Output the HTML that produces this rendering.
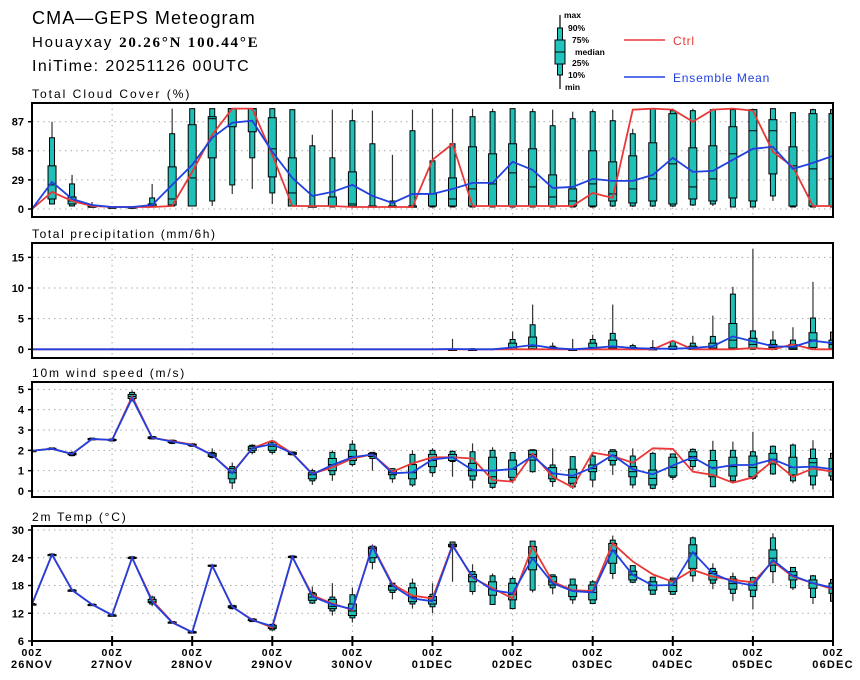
<!DOCTYPE html>
<html><head><meta charset="utf-8">
<style>
html,body{margin:0;padding:0;background:#fff;}
svg{display:block;}
text{font-family:"Liberation Sans",sans-serif;}
</style></head>
<body>
<svg id="chart" width="860" height="680" viewBox="0 0 860 680">
<text x="32" y="24" font-size="18" letter-spacing="1.1">CMA—GEPS Meteogram</text>
<text x="32" y="47" font-size="15" letter-spacing="1.8">Houayxay <tspan font-family="Liberation Serif, serif" font-weight="bold">20.26°N 100.44°E</tspan></text>
<text x="32" y="71" font-size="16" letter-spacing="1.4">IniTime: 20251126 00UTC</text>
<g>
<line x1="560" y1="15" x2="560" y2="89" stroke="#000" stroke-width="1.2"/>
<rect x="557.5" y="28" width="5" height="47" fill="#22c3bc" stroke="#000" stroke-width="1"/>
<rect x="555" y="40" width="10" height="24" fill="#22c3bc" stroke="#000" stroke-width="1"/>
<line x1="555" y1="52" x2="565" y2="52" stroke="#000"/>
<g font-size="8.5" font-weight="bold">
<text x="564" y="18">max</text><text x="568" y="31">90%</text><text x="572" y="43">75%</text>
<text x="575" y="55">median</text><text x="572" y="66">25%</text><text x="568" y="78">10%</text><text x="565" y="90">min</text>
</g>
</g>
<g><line x1="624" y1="40" x2="665" y2="40" stroke="#e83838" stroke-width="1.5"/><text x="673" y="45" font-size="12" letter-spacing="0.8" fill="#e83838">Ctrl</text></g>
<g><line x1="624" y1="77" x2="665" y2="77" stroke="#2040e0" stroke-width="1.5"/><text x="673" y="82" font-size="12" letter-spacing="0.8" fill="#2040e0">Ensemble Mean</text></g>
</svg>
<script>
const dayLabels=["26NOV","27NOV","28NOV","29NOV","30NOV","01DEC","02DEC","03DEC","04DEC","05DEC","06DEC"];
const cloudTicks=[0,29,58,87];
const precipTicks=[0,5,10,15];
const windTicks=[0,1,2,3,4,5];
const tempTicks=[6,12,18,24,30];

const cloudCtrl=[0,17,8,3,2,2,2,3,37,74,100,100,54,3,3,3,2,2,2,2,49,65,3,3,3,3,3,3,16,11,99,100,99,87,99,100,98,57,42,3,3];
const cloudMean=[0,27,10,4,2,2,4,24,44,71,86,88,57,31,13,17,24,13,6,15,15,20,26,26,47,39,21,22,30,28,28,34,51,37,38,49,60,62,40,46,53];
const cloudBox=[[0,0,0,0,0,0,0],[5,5,10,24,43,71,87],[3,3,5,8,12,25,34],[2,2,3,3,3,3,7],[2,2,2,2,2,2,2],[2,2,2,2,2,2,2],[2,2,2,3,5,11,25],[3,3,4,10,42,75,100],[3,3,3,31,84,100,100],[3,8,51,90,92,100,100],[15,24,82,100,100,100,100],[20,51,77,100,100,100,100],[5,16,32,60,91,100,100],[3,3,3,16,51,99,99],[2,2,2,3,3,63,74],[2,2,3,3,12,51,99],[2,2,3,5,37,88,99],[2,2,2,2,3,65,98],[2,2,3,3,3,8,54],[2,2,3,3,3,78,99],[2,2,3,3,15,48,100],[2,2,3,10,31,65,100],[2,2,3,20,62,92,100],[2,2,3,25,55,97,100],[2,2,3,36,65,100,100],[2,2,3,22,60,97,100],[2,2,3,12,34,83,99],[2,2,3,8,20,90,97],[2,2,3,25,58,97,99],[2,3,8,15,47,88,99],[2,3,6,20,53,75,80],[2,3,8,30,66,100,100],[2,3,5,45,95,98,100],[3,4,10,22,61,98,100],[3,5,8,30,63,99,100],[2,2,11,55,82,99,100],[2,2,8,78,99,99,100],[8,13,35,78,89,100,100],[2,2,3,43,62,96,96],[2,2,3,40,95,99,100],[2,2,3,30,95,99,100]];

const precipCtrl=[0,0,0,0,0,0,0,0,0,0,0,0,0,0,0,0,0,0,0,0,0,0,0,0,0,0,0,0,0,0,0,0,1.4,0,0,0,0.2,0,0.8,0,0];
const precipMean=[0,0,0,0,0,0,0,0,0,0,0,0,0,0,0,0,0,0,0,0,0,0.05,0,0,0.3,0.7,0.2,0,0.2,0.5,0.2,0.1,0.1,0.2,0.5,2.1,1.3,0.5,0.4,1.4,1.0];
const precipBox=[[0,0,0,0,0,0,0],[0,0,0,0,0,0,0],[0,0,0,0,0,0,0],[0,0,0,0,0,0,0],[0,0,0,0,0,0,0],[0,0,0,0,0,0,0],[0,0,0,0,0,0,0],[0,0,0,0,0,0,0],[0,0,0,0,0,0,0],[0,0,0,0,0,0,0],[0,0,0,0,0,0,0],[0,0,0,0,0,0,0],[0,0,0,0,0,0,0],[0,0,0,0,0,0,0],[0,0,0,0,0,0,0],[0,0,0,0,0,0,0],[0,0,0,0,0,0,0],[0,0,0,0,0,0,0],[0,0,0,0,0,0,0],[0,0,0,0,0,0,0],[0,0,0,0,0,0,0],[0,0,0,0,0,0,1.7],[0,0,0,0,0,0.1,0.2],[0,0,0,0,0,0,0],[0,0,0,0.3,1.0,1.6,2.9],[0,0,0.1,0.5,2,4,7.3],[0,0,0,0.1,0.3,0.5,1.1],[0,0,0,0,0,0,1.7],[0,0,0.1,0.3,1,1.6,2.4],[0,0,0,0.2,1.5,2.6,7.3],[0,0,0,0.1,0.3,0.6,0.9],[0,0,0,0,0.1,0.3,1.5],[0,0,0,0,0.5,1.3,1.5],[0,0,0,0.1,0.5,1.0,2.2],[0,0,0,0.2,1.0,2.1,5.5],[0,0,0.2,1.5,4.2,9,10.2],[0,0,0.2,0.8,1.8,3,16.4],[0,0,0,0.3,0.8,1.5,3],[0,0,0,0.2,0.8,1.5,3.6],[0,0,0.3,1.5,2.7,5.1,11],[0,0,0.1,0.8,1.5,2.8,2.9]];

const windCtrl=[1.98,2.08,1.82,2.56,2.51,4.65,2.62,2.45,2.28,1.77,0.9,2.1,2.48,1.85,0.85,1.16,1.6,1.8,0.95,1.36,1.66,1.66,1.6,0.54,0.46,1.82,0.7,0.18,1.89,1.72,1.39,2.1,2.07,0.95,0.79,0.41,0.67,1.49,0.7,1.11,0.95];
const windMean=[1.98,2.08,1.82,2.56,2.51,4.56,2.62,2.43,2.26,1.77,0.87,2.1,2.31,1.85,0.82,1.28,1.66,1.8,0.87,0.92,1.55,1.66,1.03,1.0,1.08,1.72,0.87,0.75,1.16,1.77,1.07,0.82,1.25,1.66,1.11,1.28,1.28,1.56,1.16,1.2,1.07];
const windBox=[[1.95,1.96,1.97,1.98,1.99,2.0,2.0],[2.02,2.04,2.06,2.08,2.1,2.12,2.14],[1.7,1.74,1.78,1.82,1.86,1.9,1.95],[2.5,2.52,2.54,2.56,2.58,2.6,2.62],[2.44,2.46,2.48,2.51,2.54,2.56,2.58],[4.4,4.45,4.55,4.65,4.75,4.85,4.95],[2.54,2.56,2.58,2.62,2.66,2.68,2.7],[2.3,2.34,2.38,2.43,2.48,2.5,2.52],[2.18,2.2,2.23,2.26,2.3,2.32,2.34],[1.6,1.65,1.7,1.77,1.85,1.9,2.1],[0.1,0.4,0.6,0.9,1.1,1.2,1.4],[1.8,1.9,2.0,2.1,2.2,2.25,2.3],[1.8,1.9,2.0,2.2,2.4,2.45,2.5],[1.75,1.78,1.8,1.85,1.9,1.92,1.95],[0.3,0.5,0.6,0.8,0.9,1.0,1.1],[0.5,0.8,1.0,1.3,1.6,1.9,2.0],[1.2,1.3,1.5,1.7,2.0,2.3,2.5],[1.0,1.6,1.7,1.8,1.85,1.9,1.9],[0.4,0.6,0.8,0.9,1.0,1.1,1.1],[0.2,0.3,0.6,0.9,1.3,1.8,2.0],[0.7,0.9,1.2,1.5,1.8,2.0,2.1],[0.7,1.45,1.5,1.65,1.8,1.95,2.0],[0.13,0.54,0.74,1.0,1.36,1.93,2.34],[0.1,0.18,0.38,0.7,1.66,2.0,2.15],[0.38,0.54,0.67,1.07,1.52,1.89,1.93],[0.9,0.95,1.52,1.8,2.0,2.03,2.05],[0.2,0.46,0.6,0.85,1.15,1.28,2.1],[0.1,0.2,0.38,0.67,1.07,1.69,1.72],[0.2,0.54,0.95,1.1,1.28,1.72,1.93],[0.79,1.28,1.5,1.75,1.95,2.03,2.05],[0.13,0.3,0.7,0.95,1.2,1.72,2.1],[0.08,0.13,0.3,0.62,1.03,1.85,1.93],[0.54,0.67,0.74,1.16,1.66,1.82,1.85],[1.03,1.2,1.5,1.7,1.93,2.05,2.1],[0.2,0.21,0.7,1.16,1.5,2.0,2.47],[0.46,0.5,0.74,1.2,1.66,2.0,2.43],[0.54,0.62,0.7,1.16,1.72,1.93,2.9],[0.79,0.84,1.33,1.56,1.85,2.2,2.25],[0.38,0.5,0.79,1.16,1.66,2.26,2.34],[0.08,0.3,0.74,1.39,1.6,2.06,2.5],[0.5,0.54,0.74,1.1,1.6,1.85,1.93]];

const tempCtrl=[14.0,24.7,17.0,13.9,11.6,24.0,14.8,10.1,7.9,22.3,13.4,10.6,8.9,24.2,15.9,14.1,12.7,26.6,18.3,15.8,15.2,26.8,19.7,17.4,15.2,26.4,18.8,17.0,16.8,27.1,23.2,20.4,18.8,21.4,19.9,19.2,18.7,23.2,19.9,18.5,17.2];
const tempMean=[14.0,24.7,17.0,13.9,11.6,24.0,14.5,10.0,7.9,22.3,13.4,10.5,9.2,24.2,15.6,13.9,12.9,26.4,18.0,15.2,14.6,26.6,19.9,17.0,16.3,23.9,18.5,16.8,16.5,25.7,20.3,18.0,18.1,25.2,20.6,18.8,18.0,23.5,20.1,18.5,17.5];
const tempBox=[[13.9,13.9,14.0,14.0,14.0,14.1,14.1],[24.6,24.6,24.7,24.7,24.7,24.8,24.8],[16.9,16.9,17.0,17.0,17.0,17.1,17.1],[13.8,13.8,13.9,13.9,13.9,14.0,14.0],[11.5,11.5,11.6,11.6,11.6,11.7,11.7],[23.8,23.8,23.9,24.0,24.1,24.2,24.2],[13.5,14.0,14.3,14.5,15.0,15.5,15.8],[9.8,9.9,10.0,10.0,10.1,10.2,10.2],[7.6,7.7,7.8,7.9,8.0,8.1,8.1],[22.1,22.2,22.2,22.3,22.4,22.4,22.5],[12.8,13.0,13.2,13.4,13.6,13.7,13.8],[10.1,10.2,10.4,10.5,10.7,10.8,10.9],[8.2,8.4,8.7,9.0,9.4,9.6,9.8],[24.0,24.0,24.1,24.2,24.3,24.4,24.4],[14.0,14.2,14.8,15.5,16.2,16.5,17.8],[11.5,12.5,13.0,13.5,15.0,15.5,18.5],[10.0,11.0,11.5,12.5,14.0,16.0,17.5],[21.5,23.0,24.0,26.0,26.3,26.5,26.6],[15.0,16.5,17.0,17.8,18.0,18.5,18.5],[13.0,14.0,14.5,15.5,17.5,18.5,19.5],[12.0,13.4,14.0,14.8,15.6,16.1,18.5],[18.8,26.2,26.4,26.6,26.9,27.4,27.5],[16.0,16.7,18.8,19.9,20.4,21.0,22.6],[13.8,13.9,15.9,17.2,18.8,20.1,20.6],[12.9,13.0,14.9,16.1,18.5,19.5,19.9],[16.5,17.0,21.4,24.0,26.4,27.6,27.6],[16.1,17.5,18.1,18.8,19.9,20.3,20.4],[14.0,14.9,15.6,17.0,18.1,19.4,19.5],[14.0,14.1,14.9,16.5,18.1,18.8,19.2],[19.4,20.6,22.8,25.5,27.1,27.8,28.8],[18.5,18.7,19.2,20.3,21.1,22.3,22.4],[16.1,16.1,17.0,18.0,18.8,19.8,19.9],[16.0,16.1,16.7,18.0,19.2,19.6,19.7],[18.8,20.1,21.7,25.0,26.8,28.3,28.6],[17.2,18.5,19.2,20.6,21.0,21.7,22.8],[14.6,16.3,17.2,18.4,19.4,19.9,20.8],[12.9,15.6,17.0,18.0,18.8,19.7,19.9],[18.5,21.0,22.4,23.9,25.7,28.3,29.3],[17.0,17.5,19.2,20.2,21.0,21.9,22.0],[14.0,15.4,17.4,18.5,19.2,20.1,20.3],[14.5,14.6,16.3,17.5,18.5,19.3,19.5]];

const NS="http://www.w3.org/2000/svg";
const svg=document.getElementById("chart");
const X0=32,X1=833,NSTEP=40;
function xs(i){return X0+i*(X1-X0)/NSTEP;}
function mk(tag,attrs,parent){const e=document.createElementNS(NS,tag);for(const k in attrs)e.setAttribute(k,attrs[k]);(parent||svg).appendChild(e);return e;}

function panel(name,title,ls,top,bottom,y0,v0,pxPerUnit,ticks,boxes,ctrl,mean,isLast){
  const yf=v=>y0-(v-v0)*pxPerUnit;
  const g=mk("g",{});
  
  
  const t=mk("text",{x:X0,y:top-5,"font-size":12,"letter-spacing":ls},g);
  t.textContent=title;
  
  
  const clipId="clip-"+name;
  const cp=mk("clipPath",{id:clipId},g);
  mk("rect",{x:X0,y:top,width:X1-X0,height:bottom-top},cp);
  for(let d=1;d<dayLabels.length-1;d++){
    const gx=xs(d*4);
    const gl=mk("line",{x1:gx,x2:gx,y1:top,y2:bottom,stroke:"#aaa","stroke-dasharray":"1.5,4","stroke-width":1},g);
    
    
  }
  ticks.forEach(tv=>{
    const ty=yf(tv);
    const hl=mk("line",{x1:X0,x2:X1,y1:ty,y2:ty,stroke:"#aaa","stroke-dasharray":"1.5,4","stroke-width":1},g);
    
    
    mk("line",{x1:X0-4,x2:X0,y1:ty,y2:ty,stroke:"#000","stroke-width":1.5},g);
    const tl=mk("text",{x:X0-8,y:ty+4,"font-size":11,"font-weight":"bold","text-anchor":"end"},g);
    tl.textContent=tv;
    
    
  });
  const inner=mk("g",{"clip-path":"url(#"+clipId+")"},g);
  boxes.forEach((b,i)=>{
    const cx=xs(i);
    const bg=mk("g",{},inner);
    
    
    if(b[6]===0) return;
    mk("line",{x1:cx,x2:cx,y1:yf(b[0]),y2:yf(b[6]),stroke:"#333","stroke-width":1.2},bg);
    const h1=Math.max(yf(b[1])-yf(b[5]),1.2);
    mk("rect",{x:cx-2.5,y:yf(b[5]),width:5,height:h1,fill:"#1fc0b8",stroke:"#000","stroke-width":1},bg);
    const h2=Math.max(yf(b[2])-yf(b[4]),1.2);
    mk("rect",{x:cx-4,y:yf(b[4]),width:8,height:h2,fill:"#1fc0b8",stroke:"#000","stroke-width":1},bg);
    mk("line",{x1:cx-4,x2:cx+4,y1:yf(b[3]),y2:yf(b[3]),stroke:"#000","stroke-width":1},bg);
  });
  const cl=mk("polyline",{points:ctrl.map((v,i)=>xs(i)+","+yf(v)).join(" "),fill:"none",stroke:"#e83838","stroke-width":1.8},inner);
  
  
  const ml=mk("polyline",{points:mean.map((v,i)=>xs(i)+","+yf(v)).join(" "),fill:"none",stroke:"#2040e0","stroke-width":1.8},inner);
  
  
  const fr=mk("rect",{x:X0,y:top,width:X1-X0,height:bottom-top,fill:"none",stroke:"#000","stroke-width":2},g);
  
  
  if(isLast){
    dayLabels.forEach((lab,d)=>{
      const lx=xs(d*4);
      mk("line",{x1:lx,x2:lx,y1:bottom-5,y2:bottom+5,stroke:"#000","stroke-width":2},g);
      const a=mk("text",{x:lx,y:bottom+15,"font-size":10.5,"font-weight":"bold","text-anchor":"middle","letter-spacing":1},g);
      a.textContent="00Z";
      
      
      const b=mk("text",{x:lx,y:bottom+27,"font-size":11,"font-weight":"bold","text-anchor":"middle","letter-spacing":1.2},g);
      b.textContent=lab;
      
      
    });
  }
}
panel("cloud","Total Cloud Cover (%)",2,103,217,209,0,1.0034,cloudTicks,cloudBox,cloudCtrl,cloudMean,false);
panel("precip","Total precipitation (mm/6h)",1.6,243,358,349.3,0,6.13,precipTicks,precipBox,precipCtrl,precipMean,false);
panel("wind","10m wind speed (m/s)",1.8,382,497,491,0,20.33,windTicks,windBox,windCtrl,windMean,false);
panel("temp","2m Temp (°C)",1.8,526,641,641,6,4.625,tempTicks,tempBox,tempCtrl,tempMean,true);
</script>
</body></html>
